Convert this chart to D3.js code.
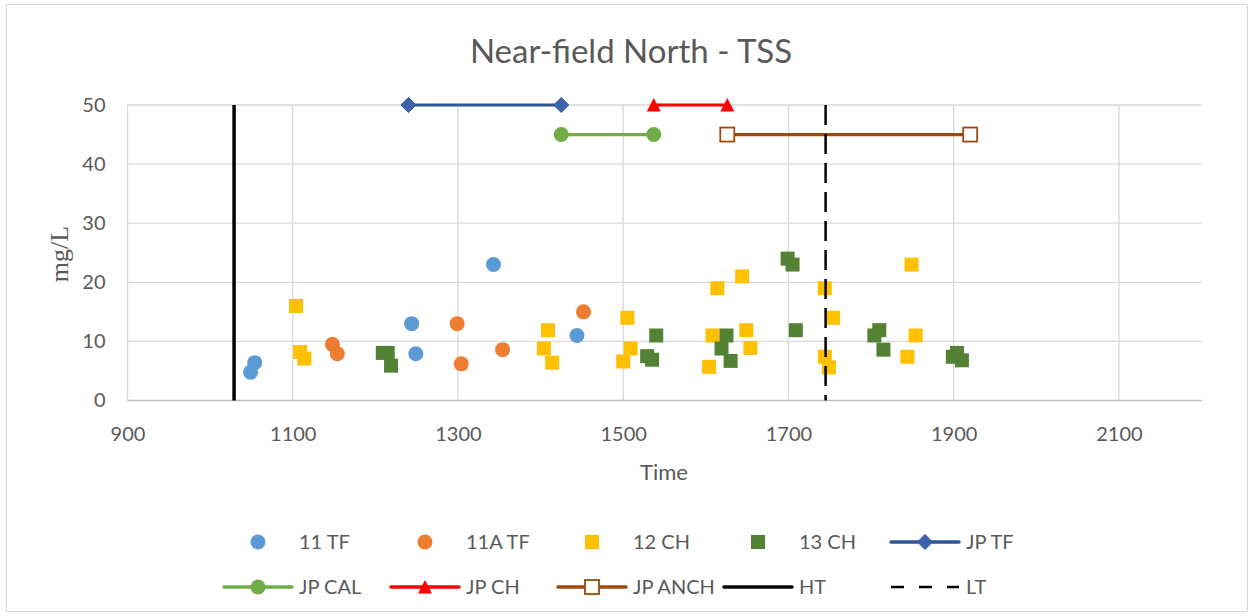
<!DOCTYPE html>
<html>
<head>
<meta charset="utf-8">
<script src="https://cdn.jsdelivr.net/npm/d3@7"></script>
<style>
  body { margin: 0; background: #fff; }
  svg { display: block; }
</style>
</head>
<body>
<svg id="chart" width="1253" height="616"></svg>
<script>
// ---------- data ----------
const xTicks = [900, 1100, 1300, 1500, 1700, 1900, 2100];
const yTicks = [0, 10, 20, 30, 40, 50];

const s11TF_x = [1049, 1054, 1244, 1249, 1343, 1444];
const s11TF_y = [4.8, 6.4, 13, 7.9, 23, 11];

const s11ATF_x = [1148, 1154, 1299, 1304, 1354, 1452];
const s11ATF_y = [9.5, 7.9, 13, 6.2, 8.6, 15];

const s12CH_x = [1104, 1109, 1114, 1404, 1409, 1414, 1500, 1505, 1509, 1604, 1608, 1614, 1644, 1649, 1654, 1744, 1744, 1749, 1754, 1844, 1849, 1854];
const s12CH_y = [16, 8.2, 7.1, 8.8, 11.9, 6.4, 6.6, 14, 8.8, 5.7, 11, 19, 21, 11.9, 8.9, 19, 7.4, 5.6, 14, 7.4, 23, 11];

const s13CH_x = [1209, 1215, 1219, 1529, 1535, 1540, 1619, 1625, 1630, 1699, 1705, 1709, 1804, 1810, 1815, 1899, 1904, 1910];
const s13CH_y = [8.05, 8.05, 5.9, 7.5, 6.9, 11, 8.8, 11, 6.7, 24, 23, 11.9, 11, 11.9, 8.6, 7.4, 8.05, 6.8];

const jpTF_x = [1240, 1425];   const jpTF_y = [50, 50];
const jpCAL_x = [1425, 1537];  const jpCAL_y = [45, 45];
const jpCH_x = [1537, 1626];   const jpCH_y = [50, 50];
const jpANCH_x = [1626, 1920]; const jpANCH_y = [45, 45];
const HT_x = [1029, 1029];     const HT_y = [0, 50];
const LT_x = [1745, 1745];     const LT_y = [0, 50];

const zip = (xs, ys) => xs.map((x, i) => ({x, y: ys[i]}));

// ---------- layout ----------
const svg = d3.select("#chart");
const W = 1253, H = 616;
const font = "Lato, 'Open Sans', sans-serif";
const textColor = "#595959";

svg.append("rect").attr("x", 6.5).attr("y", 4.5).attr("width", W - 12).attr("height", H - 9)
  .attr("fill", "#fff").attr("stroke", "#d9d9d9").attr("stroke-width", 1);

const x = d3.scaleLinear().domain([900, 2200]).range([127.5, 1201.5]);
const y = d3.scaleLinear().domain([0, 50]).range([400.5, 105]);

// gridlines
const grid = svg.append("g");
grid.selectAll("line.h").data(yTicks.filter(d => d > 0)).join("line")
  .attr("x1", x(900)).attr("x2", x(2200))
  .attr("y1", d => y(d)).attr("y2", d => y(d))
  .attr("stroke", "#d9d9d9").attr("stroke-width", 1.3);
grid.selectAll("line.v").data(xTicks).join("line")
  .attr("x1", d => x(d)).attr("x2", d => x(d))
  .attr("y1", y(50)).attr("y2", y(0))
  .attr("stroke", "#d9d9d9").attr("stroke-width", 1.3);
// x axis baseline
svg.append("line").attr("x1", x(900)).attr("x2", x(2200)).attr("y1", y(0)).attr("y2", y(0))
  .attr("stroke", "#bfbfbf").attr("stroke-width", 1.5);

// axes via d3
const xAxis = svg.append("g").attr("transform", `translate(0,${y(0)})`)
  .call(d3.axisBottom(x).tickValues(xTicks).tickSize(0).tickPadding(26).tickFormat(d3.format("d")));
xAxis.select(".domain").remove();
xAxis.selectAll("text").attr("font-family", font).attr("font-size", 20).attr("fill", textColor);

const yAxis = svg.append("g").attr("transform", `translate(${x(900)},0)`)
  .call(d3.axisLeft(y).tickValues(yTicks).tickSize(0).tickPadding(22).tickFormat(d3.format("d")));
yAxis.select(".domain").remove();
yAxis.selectAll("text").attr("font-family", font).attr("font-size", 20).attr("fill", textColor);

// titles
svg.append("text").attr("x", 631).attr("y", 63).attr("text-anchor", "middle")
  .attr("font-family", font).attr("font-size", 33).attr("fill", textColor)
  .text("Near-field North - TSS");
svg.append("text").attr("x", 664).attr("y", 480).attr("text-anchor", "middle")
  .attr("font-family", font).attr("font-size", 22).attr("fill", textColor).text("Time");
svg.append("text").attr("transform", "translate(68,254) rotate(-90)").attr("text-anchor", "middle")
  .attr("font-family", "'Liberation Serif', 'Times New Roman', serif").attr("font-size", 26)
  .attr("fill", textColor).text("mg/L");

// ---------- marker helpers ----------
const C = {
  b: "#5B9BD5", o: "#ED7D31", yel: "#FFC000", g: "#548235",
  tf: "#2F5597", tfFill: "#3A63AC", cal: "#70AD47", ch: "#FF0000", anch: "#9E480E"
};
function circle(g, cx, cy, col) {
  g.append("circle").attr("cx", cx).attr("cy", cy).attr("r", 7.5).attr("fill", col);
}
function square(g, cx, cy, col) {
  g.append("rect").attr("x", cx - 7).attr("y", cy - 7).attr("width", 14).attr("height", 14).attr("fill", col);
}
function diamond(g, cx, cy) {
  g.append("path").attr("d", `M${cx},${cy-7.5}L${cx+7.5},${cy}L${cx},${cy+7.5}L${cx-7.5},${cy}Z`)
    .attr("fill", C.tfFill).attr("stroke", C.tf).attr("stroke-width", 1);
}
function triangle(g, cx, cy) {
  g.append("path").attr("d", `M${cx},${cy-7}L${cx+7},${cy+6.5}L${cx-7},${cy+6.5}Z`).attr("fill", C.ch);
}
function hollowSq(g, cx, cy) {
  g.append("rect").attr("x", cx - 7).attr("y", cy - 7).attr("width", 14).attr("height", 14)
    .attr("fill", "#fff").attr("stroke", C.anch).attr("stroke-width", 1.8);
}

const plot = svg.append("g");
const line = d3.line().x(d => x(d.x)).y(d => y(d.y));

// scatter series
zip(s11TF_x, s11TF_y).forEach(d => circle(plot, x(d.x), y(d.y), C.b));
zip(s11ATF_x, s11ATF_y).forEach(d => circle(plot, x(d.x), y(d.y), C.o));
zip(s12CH_x, s12CH_y).forEach(d => square(plot, x(d.x), y(d.y), C.yel));
zip(s13CH_x, s13CH_y).forEach(d => square(plot, x(d.x), y(d.y), C.g));

// JP series
function jp(xs, ys, col, markerFn) {
  const data = zip(xs, ys);
  plot.append("path").datum(data).attr("d", line).attr("fill", "none")
    .attr("stroke", col).attr("stroke-width", 3.2).attr("stroke-linecap", "round");
  data.forEach(d => markerFn(plot, x(d.x), y(d.y)));
}
jp(jpTF_x, jpTF_y, C.tf, diamond);
jp(jpCAL_x, jpCAL_y, C.cal, (g, cx, cy) => circle(g, cx, cy, C.cal));
jp(jpCH_x, jpCH_y, C.ch, triangle);
jp(jpANCH_x, jpANCH_y, C.anch, hollowSq);

// HT / LT
plot.append("path").datum(zip(HT_x, HT_y)).attr("d", line).attr("stroke", "#000").attr("stroke-width", 3.5).attr("fill", "none");
plot.append("path").datum(zip(LT_x, LT_y).reverse()).attr("d", line).attr("stroke", "#000").attr("stroke-width", 2.5)
  .attr("stroke-dasharray", "20,9").attr("fill", "none");

// ---------- legend ----------
const leg = svg.append("g");
const legendItems = [
  {label: "11 TF", cx: 258, cy: 542, draw: (g, cx, cy) => circle(g, cx, cy, C.b)},
  {label: "11A TF", cx: 425, cy: 542, draw: (g, cx, cy) => circle(g, cx, cy, C.o)},
  {label: "12 CH", cx: 592, cy: 542, draw: (g, cx, cy) => square(g, cx, cy, C.yel)},
  {label: "13 CH", cx: 758, cy: 542, draw: (g, cx, cy) => square(g, cx, cy, C.g)},
  {label: "JP TF", cx: 925, cy: 542, lineCol: C.tf, draw: diamond},
  {label: "JP CAL", cx: 258, cy: 587, lineCol: C.cal, draw: (g, cx, cy) => circle(g, cx, cy, C.cal)},
  {label: "JP CH", cx: 425, cy: 587, lineCol: C.ch, draw: triangle},
  {label: "JP ANCH", cx: 592, cy: 587, lineCol: C.anch, draw: hollowSq},
  {label: "HT", cx: 758, cy: 587, lineCol: "#000", lw: 3.5},
  {label: "LT", cx: 925, cy: 587, lineCol: "#000", lw: 2.5, dash: "13,15"}
];
legendItems.forEach(it => {
  if (it.lineCol) {
    leg.append("line").attr("x1", it.cx - 34).attr("x2", it.cx + 34).attr("y1", it.cy).attr("y2", it.cy)
      .attr("stroke", it.lineCol).attr("stroke-width", it.lw || 3.5)
      .attr("stroke-linecap", it.dash ? "butt" : "round")
      .attr("stroke-dasharray", it.dash || null);
  }
  if (it.draw) it.draw(leg, it.cx, it.cy);
  leg.append("text").attr("x", it.cx + 41).attr("y", it.cy).attr("dy", "0.36em")
    .attr("font-family", font).attr("font-size", 20).attr("fill", textColor).text(it.label);
});
</script>
</body>
</html>
